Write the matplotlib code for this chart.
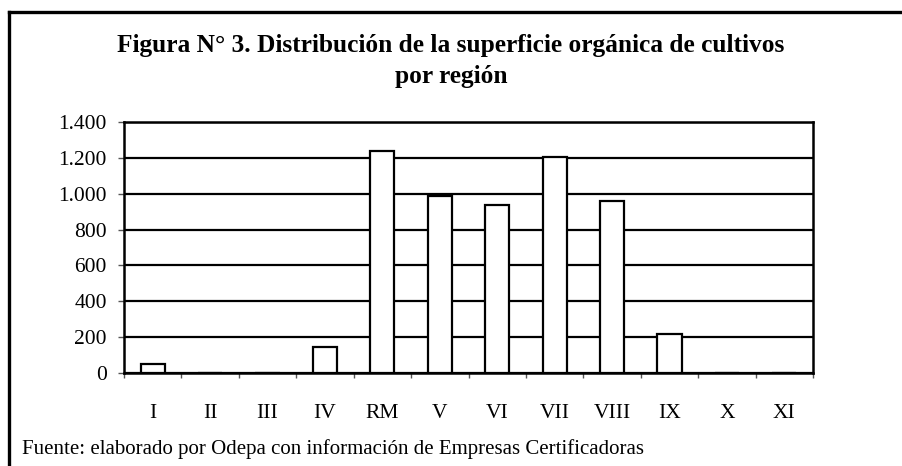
import matplotlib
matplotlib.use("Agg")
import matplotlib.pyplot as plt
from matplotlib.lines import Line2D

regions = ["I", "II", "III", "IV", "RM", "V", "VI", "VII", "VIII", "IX", "X", "XI"]
surface = [50, 0, 0, 145, 1238, 990, 935, 1205, 960, 215, 0, 0]
yticks = [0, 200, 400, 600, 800, 1000, 1200, 1400]
ytick_labels = ["0", "200", "400", "600", "800", "1.000", "1.200", "1.400"]
title = "Figura N° 3. Distribución de la superficie orgánica de cultivos\npor región"
source = "Fuente: elaborado por Odepa con información de Empresas Certificadoras"

plt.rcParams['font.family'] = ['Liberation Serif', 'DejaVu Serif']

fig = plt.figure(figsize=(9.02, 4.66), dpi=100)
W, H = 902, 466
ax = fig.add_axes([124 / W, 1 - 373 / H, (813 - 124) / W, (373 - 122) / H])

x = list(range(len(regions)))
ax.bar(x, surface, width=0.42, color="white", edgecolor="black", linewidth=1.6, zorder=3)

ax.set_xlim(-0.5, len(regions) - 0.5)
ax.set_ylim(0, 1400)
ax.set_yticks(yticks)
ax.set_yticklabels(ytick_labels, fontsize=15.5)
ax.yaxis.grid(True, color="black", linewidth=1.6, zorder=1)
ax.set_axisbelow(True)

ax.set_xticks(x)
ax.set_xticklabels(regions, fontsize=15.5)
ax.set_xticks([i - 0.5 for i in range(len(regions) + 1)], minor=True)
ax.tick_params(axis="x", which="major", length=0, pad=22)
ax.tick_params(axis="x", which="minor", length=3.6, width=1, color="#555555")
ax.tick_params(axis="y", length=4.3, width=1, color="#555555", pad=8)

for s in ax.spines.values():
    s.set_linewidth(1.8)
    s.set_color("black")

fig.text(0.5, 1 - 61 / H, title, ha="center", va="center", fontsize=18.3,
         fontweight="bold", linespacing=1.42)
fig.text(22 / W, 1 - 449 / H, source, ha="left", va="center", fontsize=15)

# outer frame (top and left)
fig.add_artist(Line2D([9 / W, 1.0], [1 - 12 / H, 1 - 12 / H], color="black",
                      linewidth=2.4, transform=fig.transFigure))
fig.add_artist(Line2D([9 / W, 9 / W], [1 - 12 / H, 0], color="black",
                      linewidth=2.4, transform=fig.transFigure))

fig.savefig("out.png", dpi=100)
